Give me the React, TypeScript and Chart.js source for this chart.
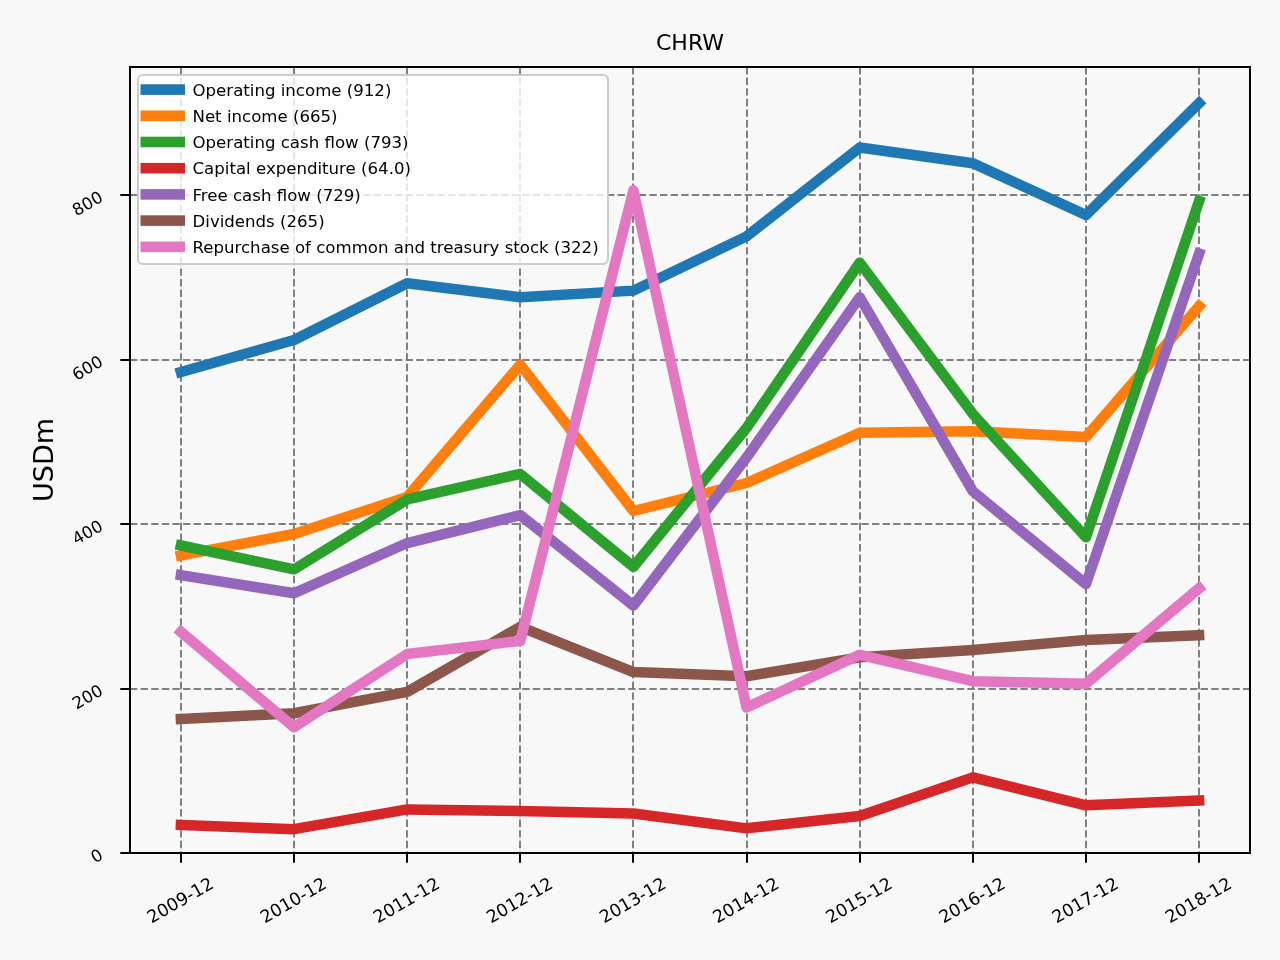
import React, { useEffect, useRef } from "react";
import { Chart, registerables } from "chart.js";

Chart.register(...registerables);

const titleText = "CHRW";
const yAxisTitle = "USDm";
const categories = ["2009-12", "2010-12", "2011-12", "2012-12", "2013-12", "2014-12", "2015-12", "2016-12", "2017-12", "2018-12"];
const operatingIncome = [585, 624, 693, 676, 684, 750, 858, 839, 776, 912];
const netIncome = [362, 388, 433, 594, 416, 450, 511, 513, 506, 665];
const operatingCashFlow = [374, 345, 430, 461, 348, 517, 718, 534, 384, 793];
const capitalExpenditure = [34, 29, 53, 51, 48, 30, 45, 92, 58, 64];
const freeCashFlow = [338, 316, 377, 411, 301, 481, 676, 440, 327, 729];
const dividends = [163, 170, 196, 275, 220, 215, 238, 247, 259, 265];
const repurchase = [269, 153, 242, 258, 806, 177, 241, 209, 206, 322];
const seriesNames = [
  "Operating income",
  "Net income",
  "Operating cash flow",
  "Capital expenditure",
  "Free cash flow",
  "Dividends",
  "Repurchase of common and treasury stock",
];
const seriesValues = [operatingIncome, netIncome, operatingCashFlow, capitalExpenditure, freeCashFlow, dividends, repurchase];
const seriesColors = ["#1f77b4", "#ff7f0e", "#2ca02c", "#d62728", "#9467bd", "#8c564b", "#e377c2"];
const yTickValues = [0, 200, 400, 600, 800];
const yTickLabels = ["0", "200", "400", "600", "800"];

const FONT = '"DejaVu Sans", sans-serif';
const BG = "#f8f8f8";

const mplPlugin = {
  id: "mplLook",
  beforeDraw(chart: any) {
    const ctx = chart.ctx;
    ctx.save();
    ctx.fillStyle = BG;
    ctx.fillRect(0, 0, chart.width, chart.height);
    ctx.restore();
  },
  afterDatasetsDraw(chart: any) {
    const ctx = chart.ctx;
    const a = chart.chartArea;
    // spines
    ctx.save();
    ctx.strokeStyle = "#000";
    ctx.lineWidth = 2;
    ctx.strokeRect(a.left, a.top, a.right - a.left, a.bottom - a.top);
    ctx.restore();
    // legend
    ctx.save();
    const lx = a.left + 8, ly = a.top + 8, lw = 470, lh = 189;
    ctx.beginPath();
    (ctx as any).roundRect(lx, ly, lw, lh, 5);
    ctx.fillStyle = "rgba(255,255,255,0.8)";
    ctx.fill();
    ctx.strokeStyle = "#cccccc";
    ctx.lineWidth = 2;
    ctx.stroke();
    ctx.font = `16.6px ${FONT}`;
    ctx.textAlign = "left";
    ctx.textBaseline = "alphabetic";
    seriesNames.forEach((name, i) => {
      const vals = seriesValues[i];
      const label = `${name} (${vals[vals.length - 1].toPrecision(3)})`;
      const y = ly + 14.6 + i * 26.2;
      ctx.fillStyle = seriesColors[i];
      ctx.fillRect(lx + 2.5, y - 5.3, 44.5, 10.6);
      ctx.fillStyle = "#000";
      ctx.fillText(label, lx + 54.5, y + 6.2);
    });
    ctx.restore();
  },
  afterDraw(chart: any) {
    const ctx = chart.ctx;
    const a = chart.chartArea;
    const xs = chart.scales.x;
    const ys = chart.scales.y;
    ctx.save();
    ctx.fillStyle = "#000";
    // x tick labels
    ctx.font = `17.5px ${FONT}`;
    categories.forEach((c, i) => {
      const px = xs.getPixelForValue(i);
      ctx.save();
      ctx.translate(px, a.bottom + 48.5);
      ctx.rotate(-Math.PI / 6);
      ctx.textAlign = "center";
      ctx.textBaseline = "middle";
      ctx.fillText(c, 0, 0);
      ctx.restore();
    });
    // y tick labels
    ctx.font = `16.7px ${FONT}`;
    yTickValues.forEach((v, i) => {
      const py = ys.getPixelForValue(v);
      ctx.save();
      ctx.translate(a.left - 28, py + 1.5);
      ctx.rotate(-Math.PI / 6);
      ctx.textAlign = "right";
      ctx.textBaseline = "middle";
      ctx.fillText(yTickLabels[i], 0, 0);
      ctx.restore();
    });
    // title
    ctx.font = `22px ${FONT}`;
    ctx.textAlign = "center";
    ctx.textBaseline = "alphabetic";
    ctx.fillText(titleText, (a.left + a.right) / 2, a.top - 17.5);
    // y axis title
    ctx.save();
    ctx.font = `27px ${FONT}`;
    ctx.translate(53, (a.top + a.bottom) / 2);
    ctx.rotate(-Math.PI / 2);
    ctx.textAlign = "center";
    ctx.textBaseline = "alphabetic";
    ctx.fillText(yAxisTitle, 0, 0);
    ctx.restore();
    ctx.restore();
  },
};

export default function App() {
  const ref = useRef<HTMLCanvasElement | null>(null);
  useEffect(() => {
    document.body.style.margin = "0";
    document.body.style.background = BG;
    const canvas = ref.current!;
    const datasets = seriesNames.map((name, i) => ({
      label: name,
      data: seriesValues[i].map((v, j) => ({ x: j, y: v })),
      borderColor: seriesColors[i],
      backgroundColor: seriesColors[i],
      borderWidth: 10.5,
      borderCapStyle: "square" as const,
      borderJoinStyle: "round" as const,
      pointRadius: 0,
      tension: 0,
      fill: false,
      order: -i,
    }));
    const gridCommon = {
      color: "#808080",
      lineWidth: 2,
      tickColor: "#000",
      tickWidth: 2,
      tickLength: 9.7,
      tickBorderDash: [],
      drawTicks: true,
    };
    const chart = new Chart(canvas, {
      type: "line",
      data: { datasets },
      plugins: [mplPlugin],
      options: {
        animation: false,
        responsive: false,
        devicePixelRatio: 1,
        layout: { padding: { left: 0, top: 67, right: 30, bottom: 0 } },
        plugins: {
          legend: { display: false },
          title: { display: false },
          tooltip: { enabled: false },
        },
        scales: {
          x: {
            type: "linear",
            min: -0.45,
            max: 9.45,
            afterBuildTicks: (s: any) => {
              s.ticks = categories.map((_, i) => ({ value: i }));
            },
            afterFit: (s: any) => {
              s.height = 107;
            },
            ticks: { display: false },
            grid: gridCommon,
            border: { display: false, dash: [7.4, 3.2] },
          },
          y: {
            type: "linear",
            min: 0,
            max: 956,
            afterBuildTicks: (s: any) => {
              s.ticks = yTickValues.map((v) => ({ value: v }));
            },
            afterFit: (s: any) => {
              s.width = 130;
            },
            ticks: { display: false },
            grid: gridCommon,
            border: { display: false, dash: [7.4, 3.2] },
          },
        },
      } as any,
    });
    return () => chart.destroy();
  }, []);
  return <canvas ref={ref} width={1280} height={960} style={{ display: "block" }} />;
}
